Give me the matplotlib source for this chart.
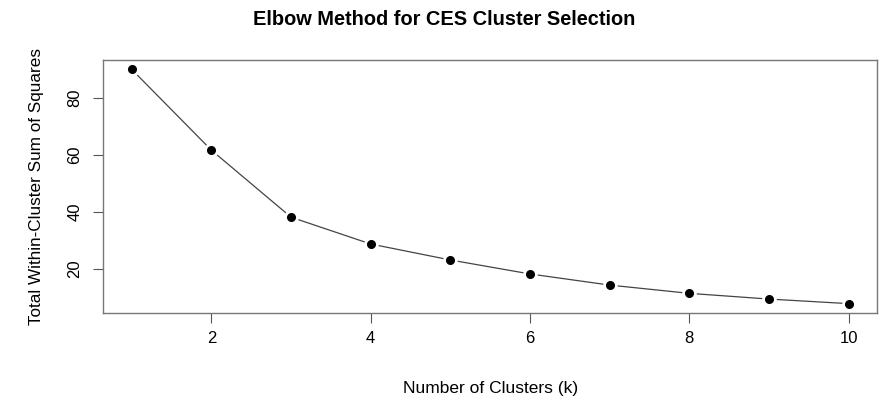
import matplotlib
matplotlib.use("Agg")
import matplotlib.pyplot as plt

plt.rcParams['font.family'] = ['Liberation Sans', 'DejaVu Sans']

# elbow data
k_values = [1, 2, 3, 4, 5, 6, 7, 8, 9, 10]
wss = [90.0, 61.7, 38.2, 28.8, 23.2, 18.3, 14.4, 11.5, 9.5, 7.9]
x_ticks = [2, 4, 6, 8, 10]
y_ticks = [20, 40, 60, 80]

fig = plt.figure(figsize=(8.88, 4.0), dpi=100)
ax = fig.add_axes([0.116, 0.2175, 0.872, 0.6325])

# R style type="b": line with gaps around the points
ax.plot(k_values, wss, color='#444444', lw=0.9, zorder=1)
ax.plot(k_values, wss, 'o', color='black', ms=5.5,
        markeredgecolor='white', markeredgewidth=5, zorder=2)
ax.plot(k_values, wss, 'o', color='black', ms=5.5, zorder=3)

xr = max(k_values) - min(k_values)
yr = max(wss) - min(wss)
ax.set_xlim(min(k_values) - 0.04 * xr, max(k_values) + 0.04 * xr)
ax.set_ylim(min(wss) - 0.04 * yr, max(wss) + 0.04 * yr)

ax.set_xticks(x_ticks)
ax.set_yticks(y_ticks)
ax.set_yticklabels([str(v) for v in y_ticks], rotation=90, va='center')
ax.tick_params(direction='out', length=7, width=0.8, colors='#555555',
               labelcolor='black', labelsize=12, pad=6)
ax.tick_params(axis='y', pad=8)

for s in ax.spines.values():
    s.set_color('#777777')
    s.set_linewidth(1.0)

ax.set_xlabel('Number of Clusters (k)', fontsize=12.5, labelpad=25)
ax.set_ylabel('Total Within-Cluster Sum of Squares', fontsize=12.3, labelpad=17)
fig.text(0.5, 0.952, 'Elbow Method for CES Cluster Selection',
         ha='center', va='center', fontsize=14.4, fontweight='bold')

fig.savefig('out.png', dpi=100)
